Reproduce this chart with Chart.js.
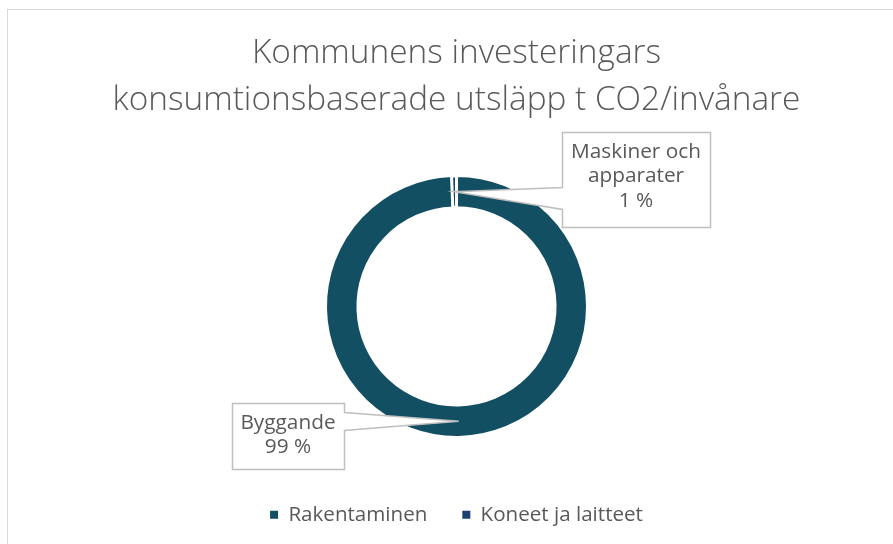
<!DOCTYPE html>
<html><head><meta charset="utf-8">
<script src="https://cdn.jsdelivr.net/npm/chart.js@4/dist/chart.umd.min.js"></script>
<style>
html,body{margin:0;padding:0;background:#fff;}
#wrap{position:relative;width:893px;height:544px;overflow:hidden;background:#fff}
#frame{position:absolute;left:7px;top:9px;width:950px;height:600px;border-top:1px solid #d9d9d9;border-left:1px solid #d9d9d9;}
canvas{position:absolute;left:0;top:0}
</style></head><body>
<div id="wrap"><div id="frame"></div><canvas id="c" width="893" height="544"></canvas></div>
<script>
// ---- data ----
const titleLines = ['Kommunens investeringars', 'konsumtionsbaserade utsläpp t CO2/invånare'];
const legendLabels = ['Rakentaminen', 'Koneet ja laitteet'];
const sliceLabels = [['Byggande'], ['Maskiner och', 'apparater']];
const shares = [99.4, 0.6];
const colors = ['#124F62', '#1C4170'];

// ---- layout helpers ----
const mctx = document.createElement('canvas').getContext('2d');
function fitSize(family, weight, text, targetW) {
  mctx.font = weight + ' 100px "' + family + '"';
  return 100 * targetW / mctx.measureText(text).width;
}
const FAM = 'Open Sans';
const titleSize = fitSize(FAM, 300, titleLines[1], 688);
const legendSize = fitSize(FAM, 400, legendLabels[0], 139);
const labelSize = fitSize(FAM, 400, sliceLabels[1][0], 130);

const calloutBoxes = [
  {x: 232, y: 403, w: 112, h: 66, side: 'right', w0: 9, w1: 27, first: 25.5},
  {x: 562, y: 132, w: 148, h: 95, side: 'left', w0: 55, w1: 77, first: 26}
];

const calloutPlugin = {
  id: 'callouts',
  afterDatasetsDraw(chart, args, opts) {
    const ctx = chart.ctx;
    const meta = chart.getDatasetMeta(0);
    const data = chart.data.datasets[0].data;
    const total = data.reduce((a, b) => a + b, 0);
    meta.data.forEach((arc, i) => {
      const p = arc.getProps(['x', 'y', 'startAngle', 'endAngle', 'innerRadius', 'outerRadius'], true);
      const a = (p.startAngle + p.endAngle) / 2;
      const r = (p.innerRadius + p.outerRadius) / 2;
      const tx = p.x + Math.cos(a) * r, ty = p.y + Math.sin(a) * r;
      const b = opts.boxes[i];
      const x0 = b.x + 0.5, y0 = b.y + 0.5, x1 = b.x + b.w + 0.5, y1 = b.y + b.h + 0.5;
      ctx.save();
      ctx.beginPath();
      if (b.side === 'left') {
        ctx.moveTo(x0, y0); ctx.lineTo(x1, y0); ctx.lineTo(x1, y1); ctx.lineTo(x0, y1);
        ctx.lineTo(x0, y0 + b.w1); ctx.lineTo(tx, ty); ctx.lineTo(x0, y0 + b.w0); ctx.closePath();
      } else {
        ctx.moveTo(x0, y0); ctx.lineTo(x1, y0); ctx.lineTo(x1, y0 + b.w0); ctx.lineTo(tx, ty);
        ctx.lineTo(x1, y0 + b.w1); ctx.lineTo(x1, y1); ctx.lineTo(x0, y1); ctx.closePath();
      }
      ctx.fillStyle = '#ffffff';
      ctx.fill();
      ctx.strokeStyle = '#BFBFBF';
      ctx.lineWidth = 1.5;
      ctx.lineJoin = 'miter';
      ctx.stroke();
      const lines = sliceLabels[i].concat([Math.round(data[i] / total * 100) + ' %']);
      ctx.fillStyle = '#595959';
      ctx.font = '400 ' + labelSize + 'px "' + FAM + '"';
      ctx.textAlign = 'center';
      ctx.textBaseline = 'alphabetic';
      lines.forEach((t, k) => ctx.fillText(t, b.x + b.w / 2, b.y + b.first + k * 24.4));
      ctx.restore();
    });
  }
};

const baseGen = Chart.overrides.doughnut.plugins.legend.labels.generateLabels;

new Chart(document.getElementById('c'), {
  type: 'doughnut',
  data: {
    labels: legendLabels,
    datasets: [{
      data: shares,
      backgroundColor: colors,
      borderColor: '#ffffff',
      borderWidth: [2, 3],
      hoverOffset: 0,
      radius: 130.5,
      cutout: '75.9%'
    }]
  },
  options: {
    responsive: false,
    animation: false,
    layout: {padding: {left: 20, right: 0, top: 0, bottom: 9}},
    plugins: {
      title: {
        display: true,
        text: titleLines,
        color: '#595959',
        font: {family: FAM, size: titleSize, weight: 300, lineHeight: '46.7px'},
        padding: {top: 30, bottom: 20}
      },
      legend: {
        position: 'bottom',
        labels: {
          boxWidth: 8, boxHeight: 8, padding: 35, color: '#595959',
          font: {family: FAM, size: legendSize},
          generateLabels(chart) {
            return baseGen(chart).map(it => Object.assign({}, it, {lineWidth: 0, strokeStyle: it.fillStyle}));
          }
        }
      },
      tooltip: {enabled: false},
      callouts: {boxes: calloutBoxes}
    }
  },
  plugins: [calloutPlugin]
});
</script>
</body></html>
